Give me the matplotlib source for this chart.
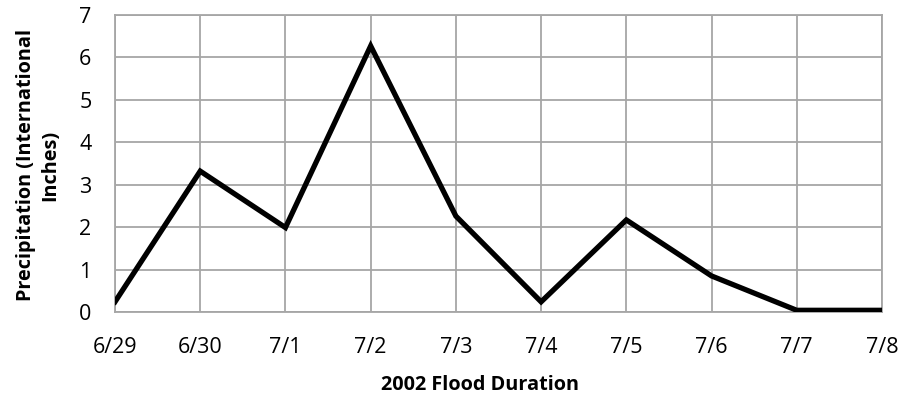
import matplotlib.pyplot as plt

dates = ['6/29', '6/30', '7/1', '7/2', '7/3', '7/4', '7/5', '7/6', '7/7', '7/8']
precip = [0.24, 3.32, 1.99, 6.27, 2.26, 0.24, 2.17, 0.85, 0.04, 0.04]
yticks = [0, 1, 2, 3, 4, 5, 6, 7]

plt.rcParams['font.family'] = ['Open Sans', 'DejaVu Sans']

fig = plt.figure(figsize=(9.04, 4.17), dpi=100)
ax = fig.add_axes([115/904, 1 - 312/417, (882-115)/904, (312-15)/417])

x = list(range(len(dates)))
ax.plot(x, precip, color='black', linewidth=3.8, solid_joinstyle='miter', zorder=3)

ax.set_xlim(0, len(dates) - 1)
ax.set_ylim(0, 7)
ax.set_xticks(x)
ax.set_xticklabels(dates)
ax.set_yticks(yticks)
ax.grid(True, color='#a6a6a6', linewidth=1.3)
for s in ax.spines.values():
    s.set_color('#a6a6a6')
    s.set_linewidth(1.3)
ax.tick_params(length=0, labelsize=15.5, pad=0)
ax.tick_params(axis='x', pad=18)
ax.tick_params(axis='y', pad=17)

fig.text(480/904, 1 - 385/417, '2002 Flood Duration', ha='center', va='center',
         fontsize=14.3, fontweight='bold')
fig.text(38/904, 1 - 165/417, 'Precipitation (International\nInches)', ha='center', va='center',
         rotation=90, fontsize=14.3, fontweight='bold', linespacing=1.25)

plt.savefig('out.png', dpi=100)
